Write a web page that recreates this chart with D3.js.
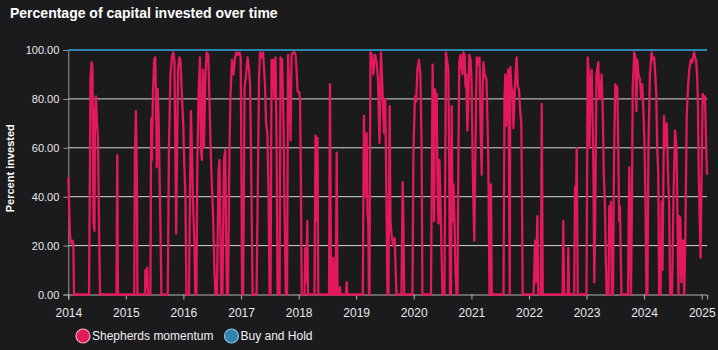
<!DOCTYPE html>
<html>
<head>
<meta charset="utf-8">
<script src="https://cdn.jsdelivr.net/npm/d3@7"></script>
<style>
  html, body { margin: 0; padding: 0; background: #1b1b1d; }
  svg { display: block; font-family: "Liberation Sans", Arial, Helvetica, sans-serif; }
</style>
</head>
<body>
<svg id="chart" width="718" height="350"></svg>
<script>
// Share of capital held in the market by the momentum strategy, as [fractional year, percent].
const momentum2014 = [[2014.000,48],[2014.030,24],[2014.047,21],[2014.073,22],[2014.087,21],[2014.099,0],
  [2014.360,0],[2014.386,88],[2014.403,95],[2014.420,93],[2014.438,30],[2014.455,26],[2014.464,75],[2014.481,81],
  [2014.498,70],[2014.516,64],[2014.533,30],[2014.551,0],[2014.837,0],[2014.851,57],[2014.863,0]];
const momentum2015 = [[2015.146,0],[2015.158,58],[2015.175,75],[2015.193,45],[2015.201,0],[2015.332,0],[2015.340,10],
  [2015.354,3],[2015.372,11],[2015.384,0],[2015.427,0],[2015.441,72],[2015.453,55],[2015.471,82],[2015.493,96],
  [2015.511,97],[2015.526,78],[2015.537,52],[2015.554,84],[2015.571,70],[2015.589,45],[2015.606,20],[2015.618,0],
  [2015.728,0],[2015.749,60],[2015.775,90],[2015.801,97],[2015.823,99],[2015.844,96],[2015.861,60],[2015.875,25],
  [2015.888,55],[2015.908,92],[2015.931,97],[2015.948,96],[2015.971,83],[2015.997,70]];
const momentum2016 = [[2016.012,56],[2016.035,40],[2016.052,0],[2016.096,0],[2016.130,75],[2016.148,60],[2016.165,40],
  [2016.191,20],[2016.208,0],[2016.226,0],[2016.240,50],[2016.261,80],[2016.287,97],[2016.304,60],[2016.321,55],
  [2016.339,92],[2016.356,60],[2016.382,90],[2016.403,99],[2016.431,98],[2016.452,80],[2016.469,63],[2016.486,50],
  [2016.512,34],[2016.538,10],[2016.556,0],[2016.582,0],[2016.608,50],[2016.625,55],[2016.643,25],[2016.656,0],
  [2016.677,0],[2016.703,55],[2016.726,59],[2016.743,20],[2016.755,0],[2016.773,0],[2016.799,60],[2016.816,81],
  [2016.842,96],[2016.868,90],[2016.894,97],[2016.920,99],[2016.947,98],[2016.973,99],[2016.993,97]];
const momentum2017 = [[2017.009,40],[2017.017,0],[2017.035,0],[2017.061,85],[2017.087,90],[2017.113,97],[2017.139,92],
  [2017.156,86],[2017.174,55],[2017.200,0],[2017.269,0],[2017.313,90],[2017.330,99],[2017.356,97],[2017.382,99],
  [2017.400,92],[2017.417,85],[2017.434,70],[2017.457,66],[2017.478,40],[2017.495,0],[2017.512,0],[2017.530,96],
  [2017.556,96],[2017.573,80],[2017.599,97],[2017.617,60],[2017.634,0],[2017.669,0],[2017.686,97],[2017.712,96],
  [2017.738,70],[2017.755,36],[2017.778,0],[2017.799,0],[2017.816,98],[2017.842,80],[2017.860,63],[2017.877,98],
  [2017.903,99],[2017.929,99],[2017.947,98],[2017.964,92],[2017.981,83]];
const momentum2018 = [[2018.007,83],[2018.024,80],[2018.038,50],[2018.054,0],[2018.102,0],[2018.115,19],[2018.129,5],
  [2018.151,30],[2018.163,0],[2018.276,0],[2018.294,65],[2018.311,30],[2018.328,64],[2018.342,0],[2018.528,0],
  [2018.545,86],[2018.563,0],[2018.589,0],[2018.603,15],[2018.615,0],[2018.644,0],[2018.662,58],[2018.676,0],
  [2018.710,0],[2018.719,3],[2018.728,0],[2018.823,0],[2018.835,5],[2018.846,0]];
const momentum2019 = [[2019.115,0],[2019.135,73],[2019.153,40],[2019.182,66],[2019.196,33],[2019.210,30],[2019.222,0],
  [2019.231,0],[2019.248,99],[2019.274,98],[2019.297,90],[2019.327,98],[2019.356,95],[2019.379,88],[2019.405,62],
  [2019.431,99],[2019.457,84],[2019.483,66],[2019.505,80],[2019.526,40],[2019.544,0],[2019.561,0],[2019.582,77],
  [2019.596,30],[2019.613,25],[2019.639,20],[2019.670,23],[2019.686,10],[2019.700,0],[2019.787,0],[2019.808,46],
  [2019.821,30],[2019.835,0],[2019.978,0],[2019.995,58]];
const momentum2020 = [[2020.021,81],[2020.043,79],[2020.064,92],[2020.090,96],[2020.116,90],[2020.137,60],[2020.151,0],
  [2020.299,0],[2020.328,94],[2020.342,60],[2020.354,30],[2020.368,84],[2020.386,75],[2020.398,82],[2020.412,47],
  [2020.429,29],[2020.446,55],[2020.464,38],[2020.481,20],[2020.498,0],[2020.533,0],[2020.559,99],[2020.577,96],
  [2020.599,92],[2020.615,55],[2020.629,0],[2020.646,0],[2020.658,77],[2020.672,30],[2020.690,45],[2020.707,29],
  [2020.724,10],[2020.742,0],[2020.759,0],[2020.776,60],[2020.790,95],[2020.811,98],[2020.828,93],[2020.846,90],
  [2020.860,99],[2020.881,98],[2020.898,85],[2020.912,90],[2020.929,67],[2020.947,80],[2020.964,98],[2020.985,96]];
const momentum2021 = [[2021.002,88],[2021.019,60],[2021.033,40],[2021.050,22],[2021.071,60],[2021.092,97],[2021.115,94],
  [2021.141,97],[2021.158,70],[2021.179,49],[2021.196,85],[2021.210,95],[2021.228,90],[2021.262,88],[2021.280,70],
  [2021.294,55],[2021.306,20],[2021.314,0],[2021.328,0],[2021.340,45],[2021.354,0],[2021.558,0],[2021.575,80],
  [2021.589,90],[2021.604,69],[2021.622,85],[2021.641,92],[2021.657,40],[2021.667,0],[2021.676,93],[2021.696,85],
  [2021.714,83],[2021.731,68],[2021.749,80],[2021.766,90],[2021.787,97],[2021.806,85],[2021.827,84],[2021.848,75],
  [2021.867,70],[2021.879,40],[2021.891,0]];
const momentum2022 = [[2022.080,0],[2022.106,22],[2022.120,5],[2022.146,32],[2022.163,0],[2022.207,0],[2022.222,78],
  [2022.240,0],[2022.585,0],[2022.597,30],[2022.610,0],[2022.674,0],[2022.684,19],[2022.696,0],[2022.787,0],
  [2022.801,44],[2022.815,30],[2022.830,60],[2022.848,0]];
const momentum2023 = [[2023.000,0],[2023.021,97],[2023.038,92],[2023.052,60],[2023.069,85],[2023.090,92],[2023.108,70],
  [2023.122,49],[2023.135,5],[2023.151,30],[2023.174,90],[2023.205,95],[2023.222,80],[2023.240,81],[2023.264,90],
  [2023.287,70],[2023.300,50],[2023.321,36],[2023.335,15],[2023.351,0],[2023.382,0],[2023.396,36],[2023.408,20],
  [2023.426,38],[2023.439,0],[2023.460,0],[2023.478,55],[2023.500,86],[2023.518,80],[2023.535,85],[2023.552,60],
  [2023.568,30],[2023.582,36],[2023.596,15],[2023.608,0],[2023.721,0],[2023.743,52],[2023.761,20],[2023.773,0],
  [2023.787,30],[2023.804,85],[2023.830,99],[2023.851,97],[2023.868,75],[2023.882,96],[2023.903,90],[2023.929,88],
  [2023.952,80],[2023.969,86],[2023.986,77]];
const momentum2024 = [[2024.007,63],[2024.024,40],[2024.042,0],[2024.059,0],[2024.076,60],[2024.102,90],[2024.132,99],
  [2024.155,96],[2024.175,97],[2024.195,90],[2024.212,82],[2024.229,60],[2024.247,49],[2024.262,0],[2024.285,0],
  [2024.306,38],[2024.320,10],[2024.346,73],[2024.368,60],[2024.393,70],[2024.415,50],[2024.436,36],[2024.453,0],
  [2024.485,0],[2024.511,40],[2024.537,67],[2024.563,60],[2024.580,30],[2024.597,0],[2024.611,32],[2024.629,31],
  [2024.646,5],[2024.663,22],[2024.681,22],[2024.696,0],[2024.714,20],[2024.740,73],[2024.762,85],[2024.785,92],
  [2024.811,96],[2024.837,95],[2024.867,99],[2024.884,97],[2024.901,96],[2024.919,90],[2024.933,80],[2024.948,50],
  [2024.966,30],[2024.980,15],[2024.993,40]];
const momentum2025 = [[2025.017,82],[2025.037,78],[2025.057,81],[2025.075,62],[2025.092,49]];

// Buy and hold stays fully invested for the whole period.
const buyAndHold = [[2014.000,100],[2025.092,100]];

const yearTicks = [2014,2015,2016,2017,2018,2019,2020,2021,2022,2023,2024,2025];
const percentTicks = [0,20,40,60,80,100];
const seriesNames = ["Shepherds momentum", "Buy and Hold"];
const seriesColors = ["#e3195b", "#2f86ad"];
const legendRims = ["#f6a9c2", "#8fc3dd"];

const momentum = [].concat(momentum2014, momentum2015, momentum2016, momentum2017, momentum2018,
  momentum2019, momentum2020, momentum2021, momentum2022, momentum2023, momentum2024, momentum2025);

function fromFractionalYear(t) {
  const y = Math.floor(t);
  const a = Date.UTC(y, 0, 1), b = Date.UTC(y + 1, 0, 1);
  return new Date(a + (t - y) * (b - a));
}

const svg = d3.select("#chart");
const W = 718, H = 350;
const plot = { left: 68.3, right: 707.2, top: 50, bottom: 294.5 };

svg.append("rect").attr("width", W).attr("height", H).attr("fill", "#1b1b1d");

const x = d3.scaleUtc()
  .domain([fromFractionalYear(2014.0), fromFractionalYear(2025.095)])
  .range([plot.left, plot.right]);
const y = d3.scaleLinear().domain([0, 100]).range([plot.bottom, plot.top]);

// Title
svg.append("text")
  .attr("x", 10).attr("y", 18)
  .attr("fill", "#ffffff")
  .attr("font-size", 14).attr("font-weight", "bold")
  .text("Percentage of capital invested over time");

// Horizontal grid lines
svg.append("g")
  .selectAll("line")
  .data(percentTicks.filter(d => d > 0 && d < 100))
  .join("line")
  .attr("x1", plot.left).attr("x2", plot.right)
  .attr("y1", d => y(d)).attr("y2", d => y(d))
  .attr("stroke", "#d6d6d6").attr("stroke-width", 1);

// Y axis
const yAxis = svg.append("g")
  .attr("transform", `translate(${plot.left},0)`)
  .call(d3.axisLeft(y).tickValues(percentTicks).tickFormat(d3.format(".2f")).tickSize(5).tickPadding(4));
yAxis.select(".domain").attr("stroke", "#9a9a9a");
yAxis.selectAll(".tick line").attr("stroke", "#9a9a9a");
yAxis.selectAll(".tick text").attr("fill", "#e8e8e8").attr("font-size", 11)
  .attr("font-family", "\"Liberation Sans\", Arial, sans-serif");

// X axis
const xAxis = svg.append("g")
  .attr("transform", `translate(0,${plot.bottom})`)
  .call(d3.axisBottom(x).tickValues(yearTicks.map(fromFractionalYear)).tickFormat(d3.utcFormat("%Y")).tickSize(5).tickPadding(9));
xAxis.select(".domain").attr("stroke", "#b5b5b5");
xAxis.selectAll(".tick line").attr("stroke", "#b5b5b5");
xAxis.selectAll(".tick text").attr("fill", "#e8e8e8").attr("font-size", 12)
  .attr("font-family", "\"Liberation Sans\", Arial, sans-serif");

// Y axis title
svg.append("text")
  .attr("transform", `translate(14,${(plot.top + plot.bottom) / 2 - 4}) rotate(-90)`)
  .attr("text-anchor", "middle")
  .attr("fill", "#ffffff")
  .attr("font-size", 11).attr("font-weight", "bold")
  .text("Percent invested");

const line = d3.line()
  .x(d => x(fromFractionalYear(d[0])))
  .y(d => y(d[1]));

// Buy and hold line
svg.append("path")
  .datum(buyAndHold)
  .attr("d", line)
  .attr("fill", "none")
  .attr("stroke", seriesColors[1])
  .attr("stroke-width", 2);

// Momentum allocation line
svg.append("path")
  .datum(momentum)
  .attr("d", line)
  .attr("fill", "none")
  .attr("stroke", seriesColors[0])
  .attr("stroke-width", 2.3)
  .attr("stroke-linejoin", "round");

// Legend
const legend = svg.append("g").attr("transform", "translate(83,336)");
const legendOffsets = [0, 148.5];
const items = legend.selectAll("g").data(seriesNames).join("g")
  .attr("transform", (d, i) => `translate(${legendOffsets[i]},0)`);
items.append("circle")
  .attr("r", 7)
  .attr("fill", (d, i) => seriesColors[i])
  .attr("stroke", (d, i) => legendRims[i])
  .attr("stroke-width", 1.2);
items.append("text")
  .attr("x", 9).attr("y", 4.3)
  .attr("fill", "#f0f0f0")
  .attr("font-size", 12)
  .text(d => d);
</script>
</body>
</html>
